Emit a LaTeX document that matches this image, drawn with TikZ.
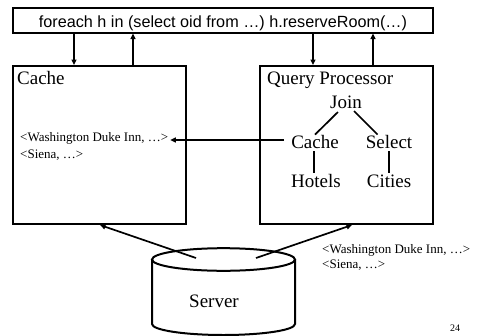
\documentclass[tikz,border=0pt]{standalone}
\usepackage{fontspec}
\setmainfont{Liberation Serif}
\newfontfamily\arialf{Liberation Sans}
\usetikzlibrary{arrows.meta}
\begin{document}
\begin{tikzpicture}[x=1pt,y=-1pt,
 box/.style={draw,line width=2pt,inner sep=0pt},
 arr/.style={line width=1.7pt,-{Triangle[length=5.5pt,width=5pt]}},
 big/.style={font=\fontsize{19}{22}\selectfont,inner sep=0pt},
 small/.style={font=\fontsize{13}{15}\selectfont,inner sep=0pt},
 ln/.style={line width=1.7pt}]
\useasboundingbox[fill=white] (0,0) rectangle (485,335);
% boxes
\node[box,minimum width=420pt,minimum height=25pt,text height=15pt,text depth=1pt,
      font=\arialf\fontsize{16.2}{18}\selectfont] (top) at (223,20)
      {foreach h in (select oid from …) h.reserveRoom(…)};
\node[box,minimum width=173pt,minimum height=158pt] (cache) at (99.5,145) {};
\node[box,minimum width=173pt,minimum height=158pt] (qp) at (346.5,145) {};
% labels
\node[big,anchor=base west] (cachelbl) at (17,84) {Cache};
\node[big,anchor=base west] (qplbl) at (267,84) {Query Processor};
\node[big,anchor=base] (join) at (346,108) {Join};
\node[big,anchor=base] (qcache) at (315,148) {Cache};
\node[big,anchor=base] (select) at (389,148) {Select};
\node[big,anchor=base] (hotels) at (316,187) {Hotels};
\node[big,anchor=base] (cities) at (389,187) {Cities};
\node[small,anchor=base west] (cl1) at (20,141) {<Washington Duke Inn, …>};
\node[small,anchor=base west] (cl2) at (20,158) {<Siena, …>};
\node[small,anchor=base west] (rl1) at (322,253) {<Washington Duke Inn, …>};
\node[small,anchor=base west] (rl2) at (322,268) {<Siena, …>};
\node[font=\fontsize{10}{12}\selectfont,inner sep=0pt,anchor=base] (pg) at (455,331) {24};
% tree edges
\draw[ln] ([shift={(8pt,-4pt)}]join.base west) -- (qcache.north);
\draw[ln] ([shift={(-8pt,-3pt)}]join.base east) -- ([xshift=12pt]select.north west);
\draw[ln] ([shift={(-1pt,-3pt)}]qcache.base) coordinate (h1) -- ([yshift=1pt]h1 |- hotels.north);
\draw[ln] ([yshift=-3pt]select.base) coordinate (h2) -- ([yshift=1pt]h2 |- cities.north);
% cache arrow
\coordinate (cle) at ([xshift=2pt]cl1.east);
\draw[arr] ([shift={(-7pt,8pt)}]qcache.base west) coordinate (qa) -- (qa -| cle);
% top arrows
\coordinate (a1) at (74,0);
\coordinate (a2) at (133,0);
\coordinate (a3) at (313,0);
\coordinate (a4) at (373,0);
\draw[arr] (top.south -| a1) -- (cache.north -| a1);
\draw[arr] (cache.north -| a2) -- (top.south -| a2);
\draw[arr] (top.south -| a3) -- (qp.north -| a3);
\draw[arr] (qp.north -| a4) -- (top.south -| a4);
% server cylinder
\draw[line width=2pt] (223.5,259.5) ellipse [x radius=71.5pt, y radius=11.3pt];
\draw[line width=2pt] (152,259.5) -- (152,324) arc[start angle=180,end angle=360,x radius=71.5pt,y radius=11pt] -- (295,259.5);
\node[big,anchor=base] (server) at (214,307) {Server};
\coordinate (s1) at (196,258);
\coordinate (s2) at (256,258);
\coordinate (t1) at (100,0);
\coordinate (t2) at (352,0);
\draw[arr] (s1) -- (cache.south -| t1);
\draw[arr] (s2) -- (qp.south -| t2);
\end{tikzpicture}
\end{document}
